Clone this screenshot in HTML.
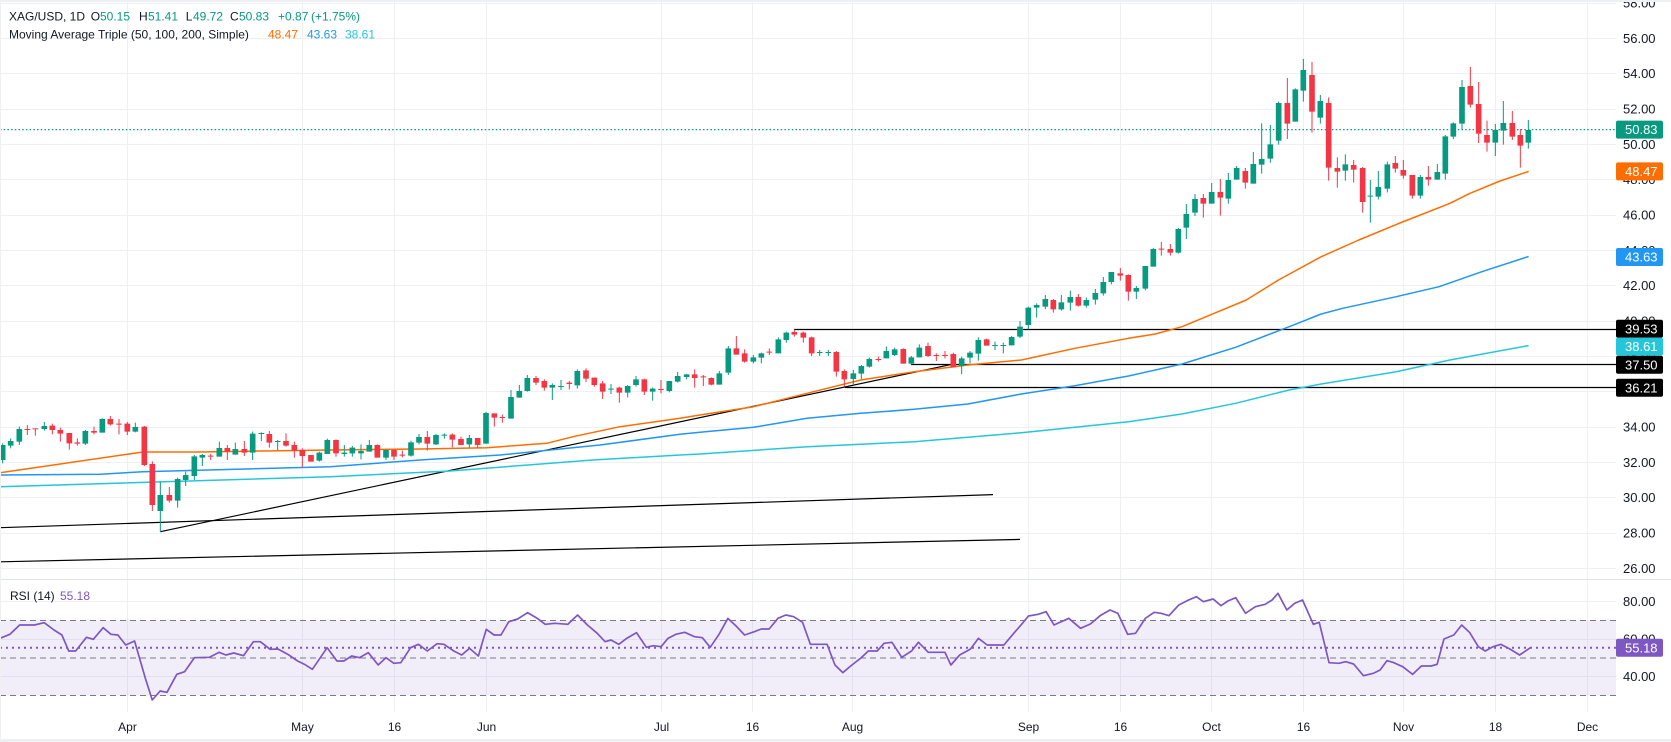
<!DOCTYPE html>
<html><head><meta charset="utf-8"><style>
html,body{margin:0;padding:0;background:#fff;}
body{width:1671px;height:742px;overflow:hidden;}
svg{display:block;}
text{font-family:"Liberation Sans",sans-serif;}
</style></head><body>
<svg xmlns="http://www.w3.org/2000/svg" width="1671" height="742" viewBox="0 0 1671 742">
<rect width="1671" height="742" fill="#fff"/>
<!-- grid -->
<g stroke="#eef0f3" stroke-width="1" fill="none">
<path d="M0 3.5H1616M0 38.5H1616M0 73.5H1616M0 109.5H1616M0 144.5H1616M0 179.5H1616M0 215.5H1616M0 250.5H1616M0 285.5H1616M0 321.5H1616M0 356.5H1616M0 391.5H1616M0 427.5H1616M0 462.5H1616M0 497.5H1616M0 533.5H1616M0 568.5H1616"/>
<path d="M0 601.5H1616M0 639.5H1616M0 676.5H1616"/>
<path d="M127.5 0V712M302.5 0V712M394.5 0V712M486.5 0V712M661.5 0V712M752.5 0V712M852.5 0V712M1028.5 0V712M1120.5 0V712M1211.5 0V712M1303.5 0V712M1403.5 0V712M1495.5 0V712M1587.5 0V712"/>
</g>
<path d="M0 579.5H1671" stroke="#e0e3eb" stroke-width="1"/>
<!-- RSI band -->
<rect x="0" y="620.4" width="1616" height="75.1" fill="#7e57c2" fill-opacity="0.1"/>
<g stroke="#787b86" stroke-width="1" stroke-dasharray="6 4" fill="none">
<path d="M0 620.5H1616M0 658H1616M0 695.5H1616"/>
</g>
<!-- trend lines -->
<g stroke="#000" stroke-width="1.2" fill="none">
<path d="M794 329.5H1616M911 364.5H1616M845 387.5H1616"/>
<path d="M160.3 531.7L952 364.3"/>
<path d="M0 527.7L993 494.6"/>
<path d="M0 561.8L1020 539.4"/>
</g>
<!-- moving averages -->
<g fill="none" stroke-width="1.5" stroke-linejoin="round">
<polyline stroke="#26c6da" points="0,486.7 330,476.7 450,471 593,460 680,455 700,454 807.1,446.7 914.3,441.7 1021.4,432.7 1128.5,421.7 1182,414 1235.6,403.3 1289.2,390 1321.3,384 1396.3,371.7 1449.9,360 1528.6,345.6"/>
<polyline stroke="#2196f3" points="0,475 100,474.3 143,471.7 330,466.7 420,460 500,455 600,445 680,434.3 700,432.3 753.6,427.3 807.1,418.3 860.7,413.3 914.3,409.3 967.8,404 1021.4,394 1074.9,385.7 1128.5,376 1182,364 1235.6,347.3 1289.2,326.7 1321.3,314 1342.7,308.3 1396.3,296.7 1439.1,286.7 1481.9,271.7 1528.6,256.5"/>
<polyline stroke="#ff6d00" points="0,472.7 143,452 200,452 330,450 420,449 487,447.7 547,443.3 573,436.7 620,426.7 680,418.3 700,415 753.6,406.7 807.1,393.3 860.7,380 914.3,371.7 967.8,365 1021.4,360 1074.9,348.3 1128.5,338.3 1155.3,334 1182,326.7 1214.2,313.3 1246.3,300 1278.5,280 1321.3,256.7 1358.8,240 1400,223 1450,203.3 1470,193.3 1500,181 1528.7,171.4"/>
</g>
<!-- current price line -->
<path d="M0 129.6H1616" stroke="#089981" stroke-width="1.3" stroke-dasharray="1.5 2.2"/>
<!-- candles group A -->
<g transform="translate(0,380) scale(0.333333)">
<path stroke="#089981" stroke-width="3" d="M8 190V250M32 175V205M58 140V195M133 126V152M256 150V195M307 115V158M406 128V157M481 305V455M533 293V383M557 275V318M583 225V300M607 222V258M658 185V230M706 188V224M758 155V240M784 157V183M833 180V210M958 215V245"/>
<path fill="#089981" d="M-0.5 195h17V240h-17zM23.5 183h17V197h-17zM49.5 147h17V185h-17zM124.5 138h17V147h-17zM247.5 153h17V191h-17zM298.5 117h17V158h-17zM397.5 141h17V155h-17zM472.5 345h17V393h-17zM524.5 297h17V362h-17zM548.5 285h17V300h-17zM574.5 229h17V288h-17zM598.5 225h17V233h-17zM649.5 204h17V230h-17zM697.5 207h17V224h-17zM749.5 161h17V218h-17zM775.5 159h17V162h-17zM824.5 183h17V186h-17zM949.5 218h17V242h-17z"/>
<path stroke="#f23645" stroke-width="3" d="M82 135V165M106 145V167M157 131V163M181 143V185M208 159V209M232 175V197M282 140V163M331 108V137M357 117V163M382 126V165M433 138V258M457 244V393M508 321V368M632 222V240M682 195V240M733 183V228M808 153V203M858 160V200M883 185V233M907 205V262M933 225V245"/>
<path fill="#f23645" d="M73.5 147h17V150h-17zM97.5 145h17V148h-17zM148.5 137h17V150h-17zM172.5 150h17V161h-17zM199.5 159h17V190h-17zM223.5 187h17V191h-17zM273.5 153h17V158h-17zM322.5 117h17V133h-17zM348.5 131h17V134h-17zM373.5 131h17V155h-17zM424.5 140h17V255h-17zM448.5 252h17V375h-17zM499.5 345h17V362h-17zM623.5 227h17V230h-17zM673.5 204h17V215h-17zM724.5 207h17V218h-17zM799.5 162h17V188h-17zM849.5 183h17V197h-17zM874.5 195h17V212h-17zM898.5 210h17V228h-17zM924.5 225h17V245h-17z"/>
</g>
<!-- group B -->
<g transform="translate(320,310) scale(0.333333)">
<path stroke="#089981" stroke-width="3" d="M22 386V432M73 405V440M97 408V440M123 403V448M148 390V425M198 418V450M273 392V440M297 372V403M348 372V405M373 370V386M448 375V413M498 306V401M573 240V326M598 225V263M622 195V245M697 220V270M723 210V240M772 178V236M873 222V252M923 225V262M948 198V230M998 233V272M1048 213V247M1073 186V218"/>
<path fill="#089981" d="M13.5 390h17V432h-17zM64.5 428h17V432h-17zM88.5 413h17V430h-17zM114.5 423h17V430h-17zM139.5 405h17V425h-17zM189.5 420h17V443h-17zM264.5 397h17V437h-17zM288.5 381h17V398h-17zM339.5 375h17V403h-17zM364.5 374h17V377h-17zM439.5 384h17V403h-17zM489.5 309h17V401h-17zM564.5 261h17V326h-17zM589.5 243h17V263h-17zM613.5 204h17V243h-17zM688.5 225h17V233h-17zM714.5 228h17V231h-17zM763.5 183h17V226h-17zM864.5 236h17V239h-17zM914.5 228h17V248h-17zM939.5 208h17V225h-17zM989.5 236h17V245h-17zM1039.5 213h17V243h-17zM1064.5 198h17V215h-17z"/>
<path stroke="#f23645" stroke-width="3" d="M48 388V440M172 403V443M222 418V450M247 422V442M322 363V422M397 370V412M423 380V405M473 384V413M523 310V350M547 314V338M648 198V225M673 208V242M748 213V238M798 175V216M823 203V230M848 213V267M898 230V278M973 206V255M1023 210V250"/>
<path fill="#f23645" d="M39.5 390h17V430h-17zM163.5 405h17V443h-17zM213.5 420h17V440h-17zM238.5 434h17V437h-17zM313.5 381h17V401h-17zM388.5 374h17V389h-17zM414.5 387h17V405h-17zM464.5 384h17V405h-17zM514.5 310h17V323h-17zM538.5 321h17V324h-17zM639.5 204h17V218h-17zM664.5 213h17V233h-17zM739.5 218h17V222h-17zM789.5 181h17V206h-17zM814.5 203h17V225h-17zM839.5 220h17V245h-17zM889.5 233h17V248h-17zM964.5 208h17V245h-17zM1014.5 237h17V240h-17z"/>
</g>
<!-- group C -->
<g transform="translate(680,280) scale(0.333333)">
<path stroke="#089981" stroke-width="3" d="M20 282V298M118 273V314M145 198V285M220 225V250M244 218V250M295 172V220M319 155V188M419 210V228M445 210V228M520 270V315M544 255V297M568 233V263M619 200V235M644 203V228M694 228V253M718 193V232M845 230V282M870 213V250M895 172V242M945 185V210M970 188V220M995 168V196"/>
<path fill="#089981" d="M11.5 283h17V291h-17zM109.5 280h17V314h-17zM136.5 205h17V278h-17zM211.5 232h17V245h-17zM235.5 220h17V233h-17zM286.5 178h17V220h-17zM310.5 158h17V180h-17zM410.5 216h17V219h-17zM436.5 216h17V219h-17zM511.5 280h17V297h-17zM535.5 258h17V281h-17zM559.5 237h17V260h-17zM610.5 213h17V235h-17zM635.5 208h17V225h-17zM685.5 232h17V251h-17zM709.5 203h17V232h-17zM836.5 235h17V258h-17zM861.5 218h17V233h-17zM886.5 180h17V221h-17zM936.5 195h17V198h-17zM961.5 195h17V198h-17zM986.5 171h17V196h-17z"/>
<path stroke="#f23645" stroke-width="3" d="M44 268V323M70 285V318M94 292V316M169 168V224M194 208V248M268 205V225M343 148V170M370 155V188M395 170V228M469 213V290M493 268V320M595 230V245M670 205V251M744 188V231M769 220V243M795 213V235M820 218V262M920 176V197"/>
<path fill="#f23645" d="M35.5 283h17V294h-17zM61.5 289h17V292h-17zM85.5 294h17V314h-17zM160.5 205h17V224h-17zM185.5 220h17V245h-17zM259.5 215h17V218h-17zM334.5 156h17V164h-17zM361.5 158h17V173h-17zM386.5 172h17V220h-17zM460.5 216h17V275h-17zM484.5 273h17V298h-17zM586.5 237h17V240h-17zM661.5 207h17V251h-17zM735.5 198h17V228h-17zM760.5 225h17V228h-17zM786.5 225h17V228h-17zM811.5 222h17V262h-17zM911.5 178h17V197h-17z"/>
</g>
<!-- group D -->
<g transform="translate(990,40) scale(0.333333)">
<path stroke="#089981" stroke-width="3" d="M90 843V894M115 800V868M140 790V833M166 765V807M214 765V812M241 752V812M289 773V803M316 747V794M340 711V767M364 696V733M439 738V777M466 678V751M490 624V680M565 564V641M589 492V597M615 462V528M665 429V491M715 399V491M740 378V419M790 336V431"/>
<path fill="#089981" d="M81.5 860h17V890h-17zM106.5 803h17V855h-17zM131.5 795h17V803h-17zM157.5 777h17V800h-17zM205.5 787h17V808h-17zM232.5 771h17V788h-17zM280.5 780h17V797h-17zM307.5 759h17V779h-17zM331.5 726h17V760h-17zM355.5 696h17V726h-17zM430.5 744h17V755h-17zM457.5 678h17V746h-17zM481.5 627h17V680h-17zM556.5 567h17V638h-17zM580.5 522h17V563h-17zM606.5 477h17V518h-17zM656.5 456h17V491h-17zM706.5 420h17V476h-17zM731.5 384h17V419h-17zM781.5 372h17V431h-17z"/>
<path stroke="#f23645" stroke-width="3" d="M190 777V818M265 762V800M391 684V722M415 703V782M514 606V647M541 612V647M640 462V533M691 417V527M766 384V446"/>
<path fill="#f23645" d="M181.5 780h17V808h-17zM256.5 771h17V797h-17zM382.5 700h17V707h-17zM406.5 705h17V755h-17zM505.5 626h17V629h-17zM532.5 627h17V638h-17zM631.5 474h17V491h-17zM682.5 456h17V473h-17zM757.5 393h17V428h-17z"/>
</g>
<!-- group E -->
<g transform="translate(1250,40) scale(0.333333)">
<path stroke="#089981" stroke-width="3" d="M35 250V401M61 255V368M86 185V314M136 145V245M160 57V185M211 165V251M286 343V422M361 420V548M385 393V478M412 365V457M511 405V476M562 372V419M586 285V419M610 247V297M636 120V267M736 252V348M760 183V314M835 240V326"/>
<path fill="#089981" d="M26.5 357h17V374h-17zM52.5 313h17V356h-17zM77.5 189h17V302h-17zM127.5 148h17V245h-17zM151.5 90h17V152h-17zM202.5 183h17V233h-17zM277.5 373h17V392h-17zM352.5 467h17V470h-17zM376.5 441h17V470h-17zM403.5 373h17V446h-17zM502.5 411h17V467h-17zM553.5 396h17V419h-17zM577.5 289h17V401h-17zM601.5 250h17V290h-17zM627.5 141h17V251h-17zM727.5 270h17V308h-17zM751.5 249h17V272h-17zM826.5 270h17V308h-17z"/>
<path stroke="#f23645" stroke-width="3" d="M112 114V297M186 66V278M236 172V422M262 352V443M311 360V428M338 381V518M436 348V398M460 360V416M487 405V476M535 378V437M661 81V203M686 126V309M711 242V335M787 213V300M811 267V383"/>
<path fill="#f23645" d="M103.5 189h17V251h-17zM177.5 105h17V215h-17zM227.5 189h17V383h-17zM253.5 384h17V395h-17zM302.5 375h17V389h-17zM329.5 384h17V486h-17zM427.5 369h17V386h-17zM451.5 390h17V407h-17zM478.5 405h17V467h-17zM526.5 411h17V419h-17zM652.5 138h17V194h-17zM677.5 192h17V281h-17zM702.5 285h17V308h-17zM778.5 249h17V290h-17zM802.5 285h17V317h-17z"/>
</g>
<!-- RSI -->
<path d="M0 647.7H1616" stroke="#7e57c2" stroke-width="2" stroke-dasharray="2 4"/>
<g transform="translate(0,585) scale(0.9823,0.333333)">
<polyline fill="none" stroke="#7e57c2" stroke-width="1.7" stroke-linejoin="round" vector-effect="non-scaling-stroke" points="0,160 10,148 20,120 35,120 45,113 55,135 63,150 70,198 77,198 88,157 95,163 105,128 113,148 120,150 128,180 137,168 148,280 155,345 163,318 170,322 180,268 188,260 198,218 213,217 223,202 230,210 238,204 248,212 258,170 265,170 275,193 283,192 293,208 303,228 310,238 318,253 333,188 343,228 350,228 358,213 366,218 375,203 385,240 393,218 401,235 408,233 418,188 426,178 435,198 445,176 452,178 462,198 470,210 478,190 487,213 495,133 503,150 510,150 518,110 527,102 537,83 547,100 555,118 565,115 578,118 588,90 598,120 608,145 616,170 622,165 630,178 638,160 648,143 658,187 665,182 673,185 680,160 688,148 697,142 707,155 715,158 723,187 732,148 741,100 750,125 758,150 768,140 775,132 783,132 792,100 800,90 808,95 817,112 825,178 835,178 842,178 850,240 858,263 866,243 876,220 884,198 893,198 900,175 908,172 918,217 928,198 935,172 945,202 955,202 962,202 968,240 977,210 988,192 996,160 1005,180 1015,180 1022,180 1032,145 1040,118 1047,93 1057,88 1065,80 1073,120 1082,108 1088,100 1100,130 1110,117 1120,92 1130,75 1138,85 1148,148 1156,145 1166,100 1175,82 1182,85 1190,92 1200,60 1210,45 1218,35 1225,50 1235,42 1243,62 1250,48 1258,38 1268,85 1278,65 1288,58 1295,45 1301,25 1310,75 1318,55 1326,45 1337,118 1343,112 1353,233 1363,235 1370,230 1378,237 1388,272 1398,265 1405,255 1412,227 1418,232 1428,245 1438,268 1447,243 1457,243 1463,238 1470,162 1480,150 1488,120 1496,142 1505,185 1512,198 1520,185 1528,178 1537,192 1547,210 1558,188"/>
</g>
<!-- price axis labels -->
<g font-size="13" fill="#131722">
<text x="1623" y="7.5">58.00</text>
<text x="1623" y="43">56.00</text>
<text x="1623" y="78">54.00</text>
<text x="1623" y="113.5">52.00</text>
<text x="1623" y="149">50.00</text>
<text x="1623" y="184">48.00</text>
<text x="1623" y="219.5">46.00</text>
<text x="1623" y="255">44.00</text>
<text x="1623" y="290">42.00</text>
<text x="1623" y="325.5">40.00</text>
<text x="1623" y="361">38.00</text>
<text x="1623" y="396">36.00</text>
<text x="1623" y="431.5">34.00</text>
<text x="1623" y="467">32.00</text>
<text x="1623" y="502">30.00</text>
<text x="1623" y="537.5">28.00</text>
<text x="1623" y="573">26.00</text>
<text x="1623" y="606">80.00</text>
<text x="1623" y="643.5">60.00</text>
<text x="1623" y="681">40.00</text>
</g>
<!-- label boxes -->
<g font-size="13" fill="#fff">
<rect x="1616" y="120.6" width="47" height="18" rx="2" fill="#089981"/><text x="1625" y="134.2">50.83</text>
<rect x="1616" y="162.4" width="47" height="18" rx="2" fill="#ff6d00"/><text x="1625" y="176">48.47</text>
<rect x="1616" y="248" width="47" height="18" rx="2" fill="#2196f3"/><text x="1625" y="261.6">43.63</text>
<rect x="1616" y="319.8" width="47" height="18" rx="2" fill="#000"/><text x="1625" y="333.4">39.53</text>
<rect x="1616" y="355.7" width="47" height="18" rx="2" fill="#000"/><text x="1625" y="369.3">37.50</text>
<rect x="1616" y="378.8" width="47" height="18" rx="2" fill="#000"/><text x="1625" y="392.4">36.21</text>
<rect x="1616" y="337.6" width="47" height="18" rx="2" fill="#26c6da"/><text x="1625" y="351.2">38.61</text>
<rect x="1616" y="638.7" width="47" height="18" rx="2" fill="#7e57c2"/><text x="1625" y="652.3">55.18</text>
</g>
<!-- legend -->
<g font-size="12">
<text x="9" y="20.5" fill="#131722">XAG/USD, 1D</text>
<text x="90.7" y="20.5" fill="#131722">O</text><text x="100" y="20.5" fill="#089981">50.15</text>
<text x="139" y="20.5" fill="#131722">H</text><text x="148" y="20.5" fill="#089981">51.41</text>
<text x="185.7" y="20.5" fill="#131722">L</text><text x="193" y="20.5" fill="#089981">49.72</text>
<text x="230" y="20.5" fill="#131722">C</text><text x="239" y="20.5" fill="#089981">50.83</text>
<text x="278" y="20.5" fill="#089981">+0.87</text><text x="311" y="20.5" fill="#089981">(+1.75%)</text>
<text x="9" y="38.5" fill="#131722">Moving Average Triple (50, 100, 200, Simple)</text>
<text x="268" y="38.5" fill="#ff6d00">48.47</text>
<text x="307" y="38.5" fill="#2196f3">43.63</text>
<text x="345" y="38.5" fill="#26c6da">38.61</text>
<text x="10" y="600" fill="#131722">RSI (14)</text>
<text x="60" y="600" fill="#7e57c2">55.18</text>
</g>
<!-- time axis -->
<g font-size="12" fill="#131722" text-anchor="middle">
<text x="127.5" y="731">Apr</text>
<text x="302.5" y="731">May</text>
<text x="394.5" y="731">16</text>
<text x="486.5" y="731">Jun</text>
<text x="661.5" y="731">Jul</text>
<text x="752.5" y="731">16</text>
<text x="852.5" y="731">Aug</text>
<text x="1028.5" y="731">Sep</text>
<text x="1120.5" y="731">16</text>
<text x="1211.5" y="731">Oct</text>
<text x="1303.5" y="731">16</text>
<text x="1403.5" y="731">Nov</text>
<text x="1495.5" y="731">18</text>
<text x="1587.5" y="731">Dec</text>
</g>
<!-- frame -->
<rect x="0" y="0" width="1671" height="2" fill="#eef0f4"/>
<rect x="0" y="739" width="1671" height="3" fill="#eef0f4"/>
<rect x="0" y="0" width="1" height="742" fill="#eef0f4"/>
</svg>
</body></html>
